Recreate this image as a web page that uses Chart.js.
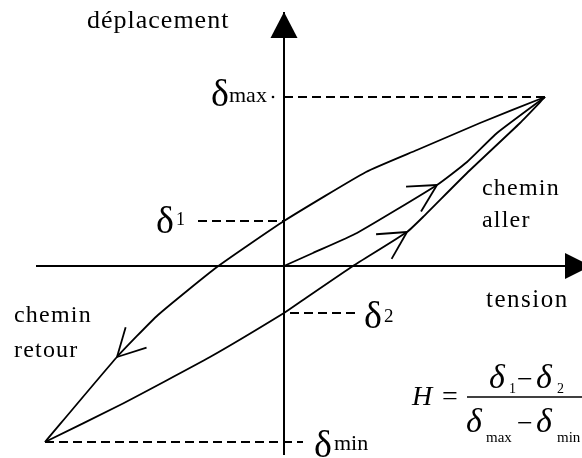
<!DOCTYPE html>
<html>
<head>
<meta charset="utf-8">
<script src="https://cdn.jsdelivr.net/npm/chart.js@4"></script>
<style>
  body { margin: 0; background: #fff; }
  #wrap { width: 582px; height: 458px; }
</style>
</head>
<body>
<div id="wrap"><canvas id="loopChart"></canvas></div>
<script>
// values (tension on x, déplacement on y, origin at the axes cross)
const allerTension  = [0, 29, 73, 153, 183, 213, 261];
const allerDepl     = [0, 13, 33, 81, 104, 133, 169];

const retourTension = [261, 196, 133, 82, 0, -67, -126, -167, -239];
const retourDepl    = [169, 143, 116, 94, 45, -1, -49, -91, -176];

const rechargeTension = [-239, -164, -74, 0, 19, 69, 123, 139, 183, 236, 261];
const rechargeDepl    = [-176, -139, -91, -47, -34, 0, 34, 49, 93, 143, 169];

const deltaMax = 169, delta1 = 45, delta2 = -47, deltaMin = -176;

// extent of the two drawn axes (tip of the arrow included)
const tensionAxis = [-248, 307];
const deplAxis = [-189, 254];

// dashed guides: [level, from, to]
const guides = [
    [deltaMax, 0, 261],
    [delta1, -86, 0],
    [delta2, 6, 71],
    [deltaMin, -239, 19]
];

const pts = (xs, ys) => xs.map((v, i) => ({ x: v, y: ys[i] }));

// open arrow heads: [dataset index, point index]
const arrows = [[2, 3], [3, 6], [4, 7]];

const serif = '"Liberation Serif", "DejaVu Serif", serif';

const sketch = {
    id: 'sketch',
    afterDatasetsDraw(chart) {
        const { ctx, scales: { x, y } } = chart;
        const px = v => x.getPixelForValue(v);
        const py = v => y.getPixelForValue(v);
        ctx.save();
        ctx.fillStyle = '#000';
        ctx.strokeStyle = '#000';

        // filled heads on the axes
        ctx.beginPath();
        ctx.moveTo(px(tensionAxis[1]), py(0));
        ctx.lineTo(px(tensionAxis[1] - 26), py(0) - 13);
        ctx.lineTo(px(tensionAxis[1] - 26), py(0) + 13);
        ctx.closePath();
        ctx.fill();
        ctx.beginPath();
        ctx.moveTo(px(0), py(deplAxis[1]));
        ctx.lineTo(px(0) - 13.5, py(deplAxis[1] - 26));
        ctx.lineTo(px(0) + 13.5, py(deplAxis[1] - 26));
        ctx.closePath();
        ctx.fill();

        // open arrows along the paths
        ctx.lineWidth = 1.8;
        arrows.forEach(([d, i]) => {
            const meta = chart.getDatasetMeta(d);
            const p = meta.data[i], q = meta.data[i - 1];
            const a = Math.atan2(q.y - p.y, q.x - p.x);
            [-0.49, 0.49].forEach(s => {
                ctx.beginPath();
                ctx.moveTo(p.x, p.y);
                ctx.lineTo(p.x + 31 * Math.cos(a + s), p.y + 31 * Math.sin(a + s));
                ctx.stroke();
            });
        });

        const txt = (s, xv, yv, size, opt = {}) => {
            ctx.font = (opt.italic ? 'italic ' : '') + size + 'px ' + serif;
            ctx.letterSpacing = (opt.ls || 0) + 'px';
            ctx.textAlign = 'left';
            ctx.textBaseline = 'alphabetic';
            ctx.fillText(s, px(xv), py(yv));
        };

        txt('déplacement', -197, 238, 26, { ls: 1 });
        txt('tension', 202, -41, 25, { ls: 1.5 });
        txt('chemin', 198, 71, 24, { ls: 1.2 });
        txt('aller', 198, 39, 24, { ls: 1.2 });
        txt('chemin', -270, -56, 24, { ls: 1.2 });
        txt('retour', -270, -91, 24, { ls: 1.2 });

        txt('δ', -73, 160, 38);
        txt('max', -55, 164, 22);
        ctx.beginPath();
        ctx.arc(px(-11), py(deltaMax), 1.3, 0, Math.PI * 2);
        ctx.fill();
        txt('δ', -128, 33, 38);
        txt('1', -108, 41, 18);
        txt('δ', 80, -62, 38);
        txt('2', 100, -56, 19);
        txt('δ', 30, -191, 38);
        txt('min', 50, -184, 22);

        // hysteresis ratio
        txt('H', 128, -139, 28, { italic: true });
        txt('=', 158, -139, 28);
        ctx.lineWidth = 1.3;
        ctx.beginPath();
        ctx.moveTo(px(183), py(-131));
        ctx.lineTo(px(316), py(-131));
        ctx.stroke();
        txt('δ', 205, -122, 34, { italic: true });
        txt('1', 225, -127, 14);
        txt('−', 233, -122, 28);
        txt('δ', 252, -122, 34, { italic: true });
        txt('2', 273, -127, 14);
        txt('δ', 182, -166, 34, { italic: true });
        txt('max', 202, -176, 15);
        txt('−', 233, -166, 28);
        txt('δ', 252, -166, 34, { italic: true });
        txt('min', 273, -176, 15);

        ctx.restore();
    }
};

const line = (data, extra = {}) => Object.assign({
    data: data,
    showLine: true,
    borderColor: '#000',
    borderWidth: 1.8,
    pointRadius: 0,
    tension: 0.15,
    fill: false
}, extra);

const datasets = [
    line(pts(tensionAxis, [0, 0]), { borderWidth: 2, tension: 0 }),
    line(pts([0, 0], deplAxis), { borderWidth: 2, tension: 0 }),
    line(pts(allerTension, allerDepl)),
    line(pts(rechargeTension, rechargeDepl)),
    line(pts(retourTension, retourDepl))
];
guides.forEach(([lvl, a, b]) => {
    datasets.push(line(pts([a, b], [lvl, lvl]), { borderDash: [9, 5], borderWidth: 2, tension: 0 }));
});

new Chart(document.getElementById('loopChart'), {
    type: 'scatter',
    data: { datasets: datasets },
    options: {
        responsive: true,
        maintainAspectRatio: false,
        animation: false,
        layout: { padding: 0 },
        plugins: { legend: { display: false }, tooltip: { enabled: false } },
        scales: {
            x: { type: 'linear', min: -284, max: 298, display: false },
            y: { type: 'linear', min: -192, max: 266, display: false }
        }
    },
    plugins: [sketch]
});
</script>
</body>
</html>
